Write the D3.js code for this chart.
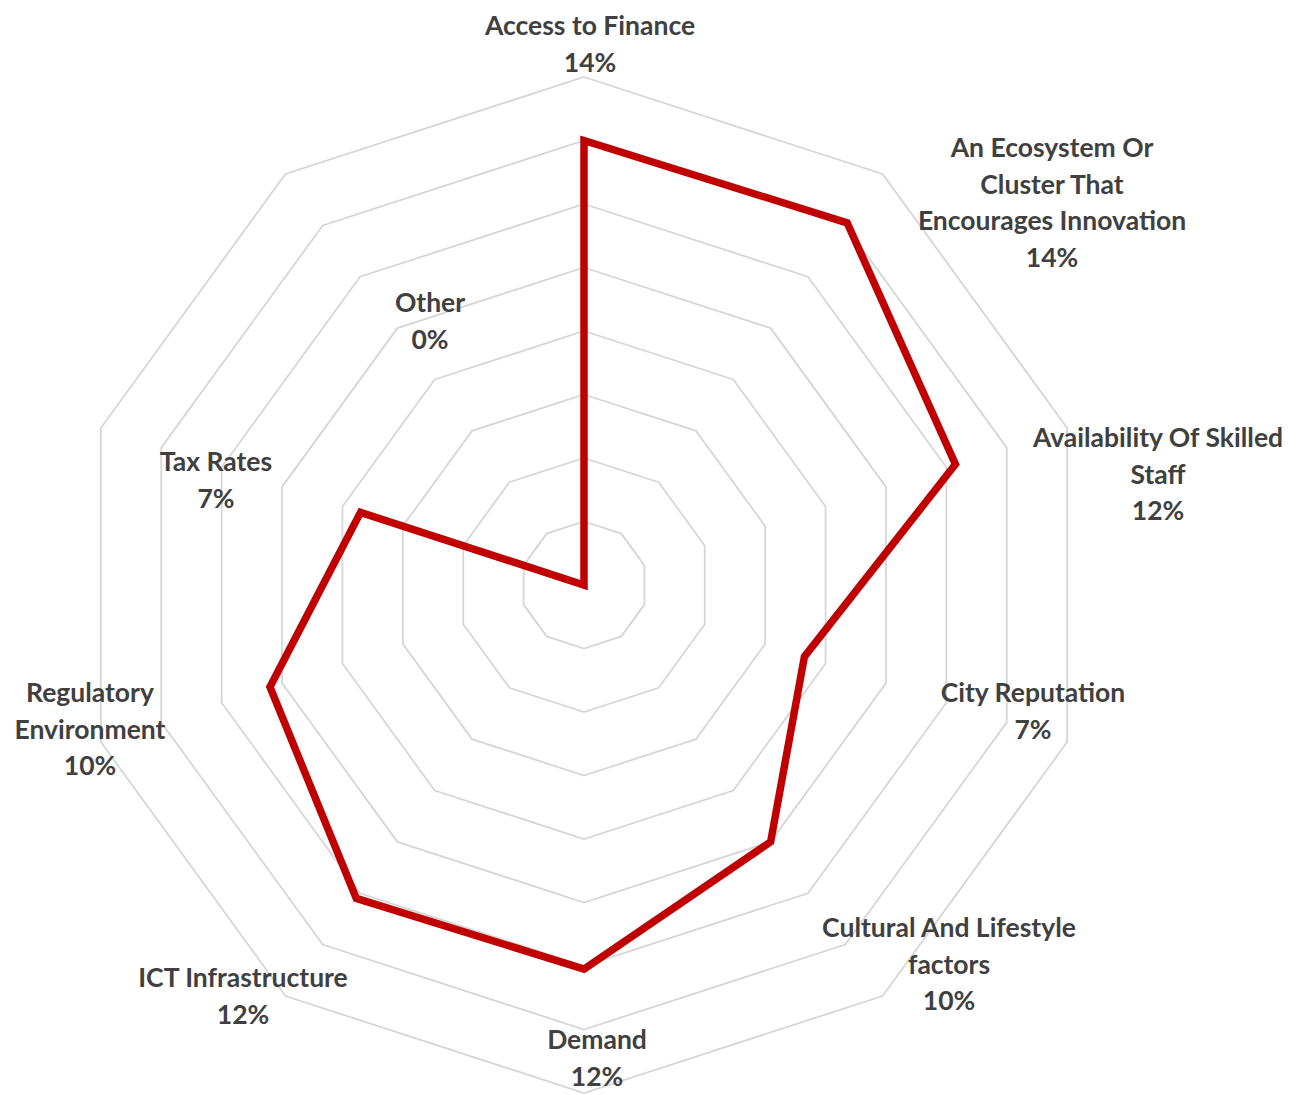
<!DOCTYPE html>
<html>
<head>
<meta charset="utf-8">
<script src="https://cdn.jsdelivr.net/npm/d3@7"></script>
<style>
  html, body { margin: 0; padding: 0; background: #fff; }
  svg { display: block; }
</style>
</head>
<body>
<svg id="chart" width="1302" height="1095"></svg>
<script>
// ---- data ----
const categories = [
  "Access to Finance",
  "An Ecosystem Or Cluster That Encourages Innovation",
  "Availability Of Skilled Staff",
  "City Reputation",
  "Cultural And Lifestyle factors",
  "Demand",
  "ICT Infrastructure",
  "Regulatory Environment",
  "Tax Rates",
  "Other"
];
const categoryLines = [
  ["Access to Finance"],
  ["An Ecosystem Or", "Cluster That", "Encourages Innovation"],
  ["Availability Of Skilled", "Staff"],
  ["City Reputation"],
  ["Cultural And Lifestyle", "factors"],
  ["Demand"],
  ["ICT Infrastructure"],
  ["Regulatory", "Environment"],
  ["Tax Rates"],
  ["Other"]
];
const values = [14.0, 14.1, 12.3, 7.3, 10.0, 12.1, 12.2, 10.4, 7.4, 0];
const valueLabels = ["14%", "14%", "12%", "7%", "10%", "12%", "12%", "10%", "7%", "0%"];
const ringTicks = [2, 4, 6, 8, 10, 12, 14, 16];

// ---- layout (label block centers, offsets from chart center, px) ----
const labelOffsets = [
  [6, -559], [468, -437], [574, -147], [449, 108], [365, 343],
  [13, 455], [-341, 393], [-494, 108], [-368, -123], [-154, -282]
];

const cx = 584, cy = 585;
const R = 508;
const n = categories.length;
const lineH = 36.6;

const svg = d3.select("#chart");
const r = d3.scaleLinear().domain([0, d3.max(ringTicks)]).range([0, R]);
const angle = d3.scaleLinear().domain([0, n]).range([0, 2 * Math.PI]);

const g = svg.append("g").attr("transform", `translate(${cx},${cy})`);

const radial = d3.lineRadial()
  .angle((d, i) => angle(i))
  .curve(d3.curveLinearClosed);

// grid rings
g.append("g").selectAll("path")
  .data(ringTicks)
  .join("path")
  .attr("d", t => radial.radius(() => r(t))(categories.map(() => t)))
  .attr("fill", "none")
  .attr("stroke", "#d6d6d6")
  .attr("stroke-width", 1.8);

// data series
g.append("path")
  .datum(values)
  .attr("d", d3.lineRadial().angle((d, i) => angle(i)).radius(d => r(d)).curve(d3.curveLinearClosed))
  .attr("fill", "none")
  .attr("stroke", "#c00000")
  .attr("stroke-width", 7.5)
  .attr("stroke-linejoin", "miter")
  .attr("stroke-miterlimit", 10);

// labels
const lab = g.append("g")
  .attr("font-family", "Lato, 'Open Sans', sans-serif")
  .attr("font-weight", 700)
  .attr("font-size", 26.5)
  .attr("fill", "#404040")
  .attr("text-anchor", "middle");

categories.forEach((c, i) => {
  const lines = categoryLines[i].concat([valueLabels[i]]);
  const [ox, oy] = labelOffsets[i];
  const t = lab.append("text")
    .attr("x", ox)
    .attr("y", oy);
  lines.forEach((ln, k) => {
    t.append("tspan")
      .attr("x", ox)
      .attr("y", oy + k * lineH)
      .attr("dy", "0.35em")
      .text(ln);
  });
});
</script>
</body>
</html>
